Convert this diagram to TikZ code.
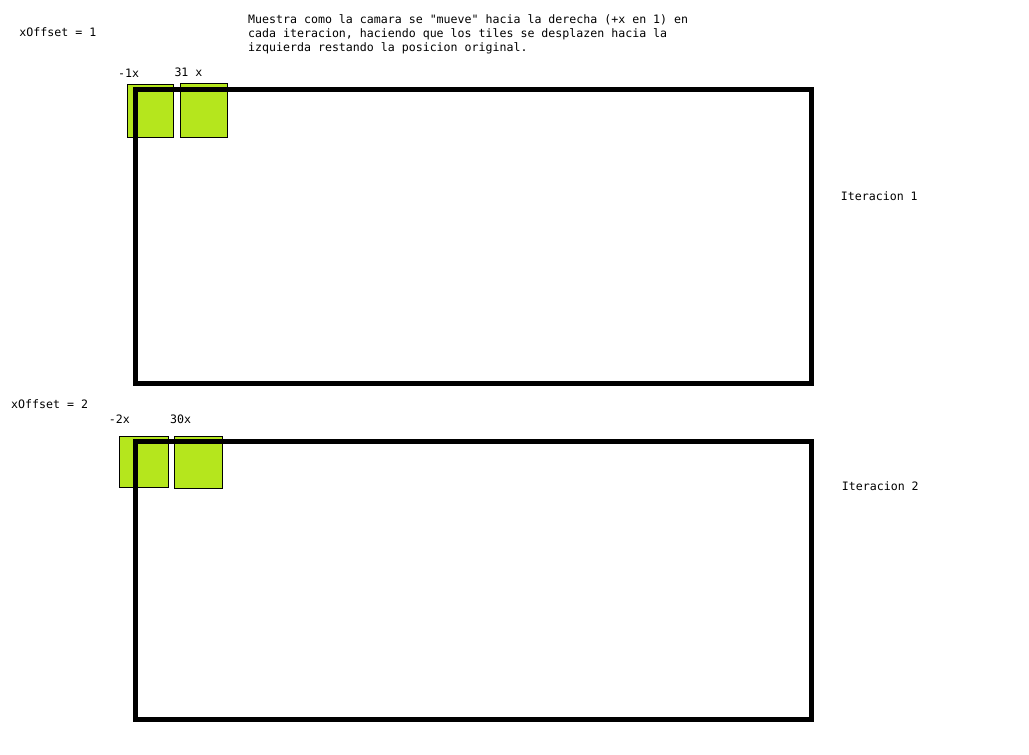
\documentclass[tikz,border=0pt]{standalone}
\usepackage{fontspec}
\setmonofont{DejaVu Sans Mono}
\usetikzlibrary{positioning}
\definecolor{tilelime}{RGB}{181,230,29}
\tikzset{
    camera/.style={draw, line width=5pt, inner sep=0pt},
    tile/.style={draw, fill=tilelime, line width=0.8pt, inner sep=0pt},
    note/.style={font=\ttfamily\fontsize{11.6}{14}\selectfont,
                 anchor=base west, inner sep=0pt, align=left},
}

\begin{document}
\begin{tikzpicture}[x=1pt, y=-1pt]
    \path[use as bounding box] (0,0) rectangle (1029,755);

    % descripcion (base = ultima linea)
    \node[note] (desc) at (248,51) {Muestra como la camara se "mueve" hacia la derecha (+x en 1) en\\
        cada iteracion, haciendo que los tiles se desplazen hacia la\\
        izquierda restando la posicion original.};

    % iteracion 1
    \node[note] (offsetA) at (19.3,36) {xOffset = 1};
    \node[tile, minimum width=46.4pt, minimum height=53.7pt] (tileA1) at (150.5,110.8) {};
    \node[tile, minimum width=46.7pt, minimum height=54.7pt] (tileA2) at (203.6,110.4) {};
    \node[note] (tileA1label) at (118,77.3) {-1x};
    \node[note] (tileA2label) at (174.3,76.7) {31 x};
    \node[camera, minimum width=676pt, minimum height=294pt] (cameraA) at (473.5,236) {};
    \node[note] (iterA) at (840.7,200) {Iteracion 1};

    % iteracion 2
    \node[note] (offsetB) at (11,408.3) {xOffset = 2};
    \node[tile, minimum width=49.7pt, minimum height=51.3pt] (tileB1) at (143.9,461.7) {};
    \node[tile, minimum width=48.7pt, minimum height=52pt] (tileB2) at (198.4,462) {};
    \node[note] (tileB1label) at (108.7,423.3) {-2x};
    \node[note] (tileB2label) at (170,423.3) {30x};
    \node[camera, minimum width=676pt, minimum height=278pt] (cameraB) at (473.5,580) {};
    \node[note] (iterB) at (841.7,490.7) {Iteracion 2};

\end{tikzpicture}
\end{document}
